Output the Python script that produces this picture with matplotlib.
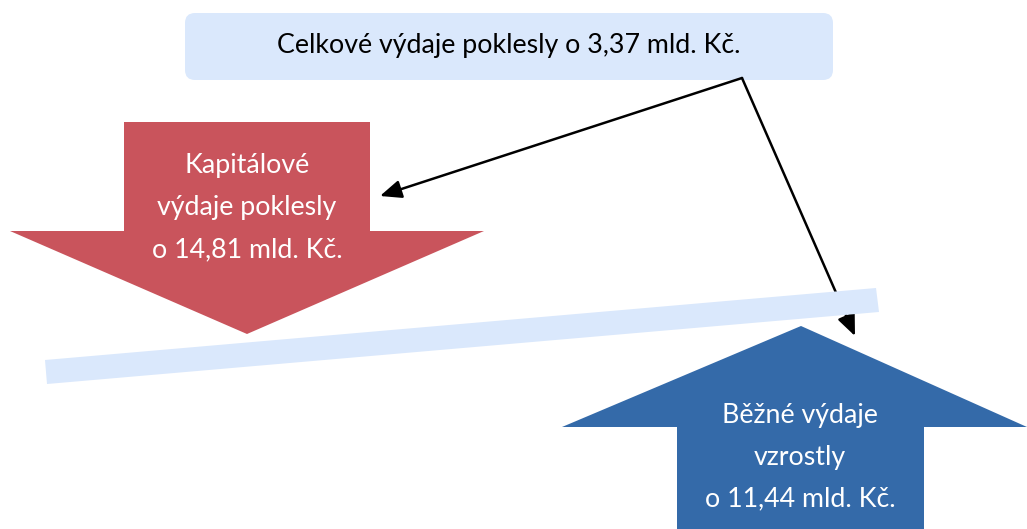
import matplotlib
matplotlib.use("Agg")
import matplotlib.pyplot as plt
import matplotlib.patches as patches

plt.rcParams["font.family"] = ["Lato", "DejaVu Sans"]

# hodnoty (mld. Kč)
celkove = 3.37
kapitalove = 14.81
bezne = 11.44


def fmt(v):
    return f"{v:.2f}".replace(".", ",")


top_text = f"Celkové výdaje poklesly o {fmt(celkove)} mld. Kč."
red_lines = ["Kapitálové", "výdaje poklesly", f"o {fmt(kapitalove)} mld. Kč."]
blue_lines = ["Běžné výdaje", "vzrostly", f"o {fmt(bezne)} mld. Kč."]

W, H = 1027, 529
fig = plt.figure(figsize=(W / 100, H / 100), dpi=100)
ax = fig.add_axes([0, 0, 1, 1])
ax.set_xlim(0, W)
ax.set_ylim(H, 0)
ax.axis("off")

light = "#dae8fc"
red = "#c9545c"
blue = "#346aa9"
fs = 19.3

# horni box
ax.add_patch(
    patches.FancyBboxPatch(
        (193, 21), 632, 51,
        boxstyle="round,pad=8,rounding_size=10",
        facecolor=light, edgecolor="none",
    )
)
ax.text(509, 45, top_text, ha="center", va="center", fontsize=fs, color="black")

# spojovaci sipky
arrow_kw = dict(arrowstyle="-|>,head_length=1.3,head_width=0.55",
                color="black", lw=1.8, shrinkA=0, shrinkB=0)
ax.annotate("", xy=(380, 196), xytext=(742, 78), arrowprops=arrow_kw, zorder=2.5)
ax.annotate("", xy=(855, 336), xytext=(742, 78), arrowprops=arrow_kw, zorder=2.5)

# cervena sipka dolu
red_arrow = [(124, 122), (370, 122), (370, 231), (484, 231),
             (247, 334), (10, 231), (124, 231)]
ax.add_patch(patches.Polygon(red_arrow, closed=True, facecolor=red, edgecolor="none",
                             zorder=2))
for i, line in enumerate(red_lines):
    ax.text(247, 166 + i * 42, line, ha="center", va="center",
            fontsize=fs, color="white", zorder=4)

# sikma deska
plank = [(45, 360), (876, 288), (879, 312), (47, 384)]
ax.add_patch(patches.Polygon(plank, closed=True, facecolor=light, edgecolor="none",
                             zorder=3))

# modra sipka nahoru
blue_arrow = [(801, 326), (1027, 427), (924, 427), (924, 540),
              (677, 540), (677, 427), (562, 427)]
ax.add_patch(patches.Polygon(blue_arrow, closed=True, facecolor=blue, edgecolor="none",
                             zorder=2))
for i, line in enumerate(blue_lines):
    ax.text(800, 415 + i * 42, line, ha="center", va="center",
            fontsize=fs, color="white", zorder=4)

fig.savefig("out.png", dpi=100)
